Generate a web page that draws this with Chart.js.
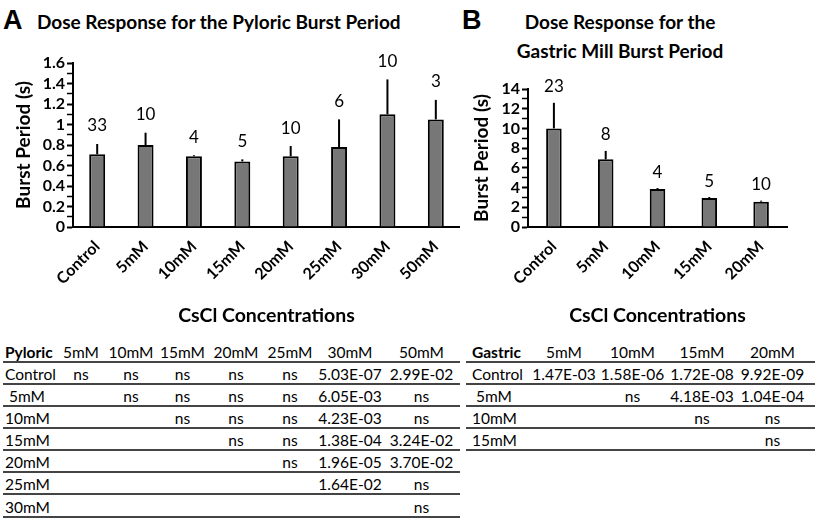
<!DOCTYPE html>
<html>
<head>
<meta charset="utf-8">
<script src="https://cdn.jsdelivr.net/npm/chart.js@4.4.1/dist/chart.umd.min.js"></script>
<style>
  body { margin: 0; background: #fff; width: 815px; height: 525px; overflow: hidden; position: relative; font-family: Lato, sans-serif; color: #000; }
  .abs { position: absolute; }
  .letter { font-family: "Liberation Sans", Arial, sans-serif; font-weight: bold; font-size: 27px; line-height: 1; }
  .ttl { font-weight: bold; font-size: 19px; line-height: 1; white-space: nowrap; }
  .row { position: absolute; height: 17px; padding-top: 3px; line-height: 17px; border-bottom: 2px solid #444; display: flex; font-size: 15.5px; }
  .row span { text-align: center; white-space: pre; }
  .row span.lab { text-align: left; }
</style>
</head>
<body>
<div class="abs letter" style="left:3px;top:7px">A</div>
<div class="abs ttl" style="left:37px;top:12px">Dose Response for the Pyloric Burst Period</div>
<div class="abs letter" style="left:462px;top:7px">B</div>
<div class="abs ttl" style="left:510px;width:220px;top:12px;text-align:center">Dose Response for the</div>
<div class="abs ttl" style="left:510px;width:220px;top:41px;text-align:center">Gastric Mill Burst Period</div>

<canvas id="pyloric" class="abs" width="460" height="330" style="left:0;top:0"></canvas>
<canvas id="gastric" class="abs" width="355" height="330" style="left:460px;top:0"></canvas>
<div id="tables"></div>

<script>
// pyloric burst period (s)
const pyloricCats = ['Control', '5mM', '10mM', '15mM', '20mM', '25mM', '30mM', '50mM'];
const pyloricMean = [0.71, 0.80, 0.69, 0.64, 0.69, 0.78, 1.10, 1.05];
const pyloricSem  = [0.10, 0.12, 0.01, 0.02, 0.10, 0.27, 0.34, 0.19];
const pyloricN    = [33, 10, 4, 5, 10, 6, 10, 3];

// gastric mill burst period (s)
const gastricCats = ['Control', '5mM', '10mM', '15mM', '20mM'];
const gastricMean = [10.0, 6.87, 3.85, 2.94, 2.57];
const gastricSem  = [2.6, 0.85, 0.10, 0.10, 0.10];
const gastricN    = [23, 8, 4, 5, 10];

// p-value tables
const pyloricCols = ['5mM', '10mM', '15mM', '20mM', '25mM', '30mM', '50mM'];
const pyloricRows = ['Control', ' 5mM', '10mM', '15mM', '20mM', '25mM', '30mM'];
const pyloricP = [
  ['ns', 'ns', 'ns', 'ns', 'ns', '5.03E-07', '2.99E-02'],
  ['', 'ns', 'ns', 'ns', 'ns', '6.05E-03', 'ns'],
  ['', '', 'ns', 'ns', 'ns', '4.23E-03', 'ns'],
  ['', '', '', 'ns', 'ns', '1.38E-04', '3.24E-02'],
  ['', '', '', '', 'ns', '1.96E-05', '3.70E-02'],
  ['', '', '', '', '', '1.64E-02', 'ns'],
  ['', '', '', '', '', '', 'ns']
];
const gastricCols = ['5mM', '10mM', '15mM', '20mM'];
const gastricRows = ['Control', ' 5mM', '10mM', '15mM'];
const gastricP = [
  ['1.47E-03', '1.58E-06', '1.72E-08', '9.92E-09'],
  ['', 'ns', '4.18E-03', '1.04E-04'],
  ['', '', 'ns', 'ns'],
  ['', '', '', 'ns']
];

// error bars + n labels above each bar
const errorBars = {
  id: 'errorBars',
  afterDatasetsDraw(chart, args, opts) {
    const { ctx } = chart;
    const y = chart.scales.y;
    const meta = chart.getDatasetMeta(0);
    ctx.save();
    ctx.strokeStyle = '#000';
    ctx.lineWidth = 2;
    ctx.fillStyle = '#000';
    ctx.font = '17px Lato';
    ctx.textAlign = 'center';
    ctx.textBaseline = 'middle';
    meta.data.forEach((bar, i) => {
      const top = y.getPixelForValue(opts.mean[i] + opts.sem[i]);
      ctx.beginPath();
      ctx.moveTo(bar.x, bar.y);
      ctx.lineTo(bar.x, top);
      ctx.stroke();
      ctx.fillText(String(opts.n[i]), bar.x, top - opts.gap);
    });
    ctx.restore();
  }
};

function makeChart(id, cats, mean, sem, n, o) {
  return new Chart(document.getElementById(id), {
    type: 'bar',
    data: {
      labels: cats,
      datasets: [{
        data: mean,
        backgroundColor: '#777777',
        borderColor: '#000',
        borderWidth: 2,
        categoryPercentage: 1,
        barPercentage: o.barPct
      }]
    },
    options: {
      responsive: false,
      animation: false,
      devicePixelRatio: 1,
      layout: { padding: { top: o.top, right: o.right, left: 0, bottom: 0 } },
      plugins: {
        legend: { display: false },
        tooltip: { enabled: false },
        errorBars: { mean: mean, sem: sem, n: n, gap: o.gap }
      },
      scales: {
        x: {
          grid: { display: false },
          border: { color: '#000', width: 2 },
          ticks: {
            color: '#000', font: { family: 'Lato', weight: 'bold', size: 16 },
            minRotation: 45, maxRotation: 45, padding: 2, autoSkip: false
          },
          title: {
            display: true, text: 'CsCl Concentrations', color: '#000',
            font: { family: 'Lato', weight: 'bold', size: 19.5 },
            padding: { top: 0, bottom: 3 }
          },
          afterFit(s) { s.height = 103; }
        },
        y: {
          min: 0, max: o.max,
          grid: {
            drawOnChartArea: false, tickLength: 6, tickColor: '#000',
            tickWidth: c => (o.isMajor(c.tick.value) ? 2 : 1.5)
          },
          border: { color: '#000', width: 2 },
          ticks: {
            stepSize: o.step, color: '#000', padding: 2, autoSkip: false,
            font: { family: 'Lato', weight: 'bold', size: 16 },
            callback: v => (o.isMajor(v) ? String(Math.round(v * 10) / 10) : '')
          },
          title: {
            display: true, text: 'Burst Period (s)', color: '#000',
            font: { family: 'Lato', weight: 'bold', size: 19 },
            padding: { top: o.titlePad, bottom: 0 }
          },
          afterFit(s) { s.width = o.yWidth; }
        }
      }
    },
    plugins: [errorBars]
  });
}

makeChart('pyloric', pyloricCats, pyloricMean, pyloricSem, pyloricN, {
  barPct: 0.33, top: 63, right: 0, max: 1.6, step: 0.1, gap: 18,
  yWidth: 73, titlePad: 12,
  isMajor: v => Math.round(v * 10) % 2 === 0
});
makeChart('gastric', gastricCats, gastricMean, gastricSem, gastricN, {
  barPct: 0.30, top: 89, right: 28, max: 14, step: 1, gap: 16,
  yWidth: 68, titlePad: 10,
  isMajor: v => Math.round(v) % 2 === 0
});

// tables
function makeTable(x0, x1, widths, title, cols, rows, vals) {
  const host = document.getElementById('tables');
  const lines = [361, 382.5, 404.5, 426.5, 449, 471, 493, 515.5];
  const all = [[title].concat(cols)].concat(rows.map((r, i) => [r].concat(vals[i])));
  all.forEach((cells, i) => {
    const row = document.createElement('div');
    row.className = 'row';
    row.style.left = x0 + 'px';
    row.style.width = (x1 - x0) + 'px';
    row.style.top = (lines[i] - 20) + 'px';
    cells.forEach((t, j) => {
      const s = document.createElement('span');
      s.textContent = t;
      s.style.width = widths[j] + 'px';
      if (j === 0) {
        s.className = 'lab';
        s.style.paddingLeft = widths.pad + 'px';
        s.style.width = (widths[j] - widths.pad) + 'px';
        if (i === 0) s.style.fontWeight = 'bold';
      }
      row.appendChild(s);
    });
    host.appendChild(row);
  });
}
const pw = [53, 50, 50, 53, 54, 54, 66, 77]; pw.pad = 2;
makeTable(3, 460, pw, 'Pyloric', pyloricCols, pyloricRows, pyloricP);
const gw = [64, 68, 69, 70, 71]; gw.pad = 6;
makeTable(466, 815, gw, 'Gastric', gastricCols, gastricRows, gastricP);
</script>
</body>
</html>
